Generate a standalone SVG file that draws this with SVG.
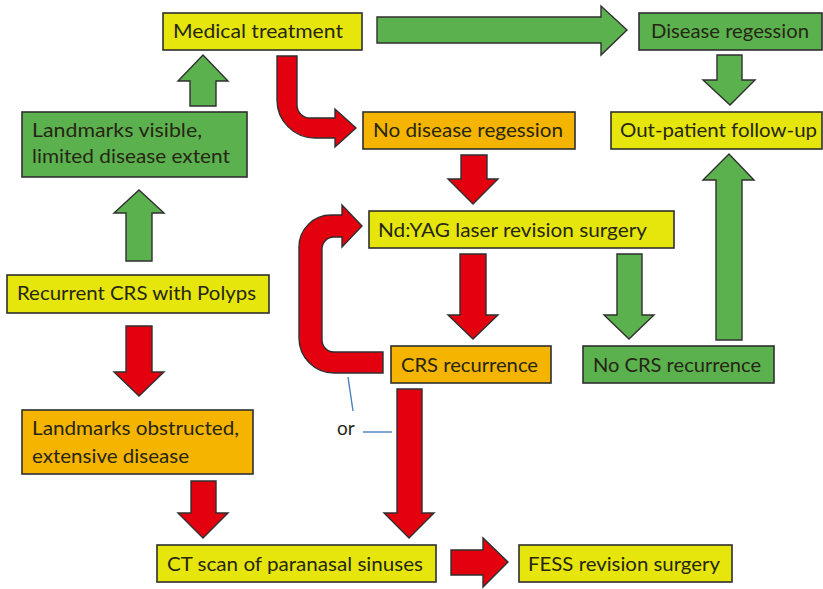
<svg xmlns="http://www.w3.org/2000/svg" width="823" height="589" viewBox="0 0 823 589">
<style>
  .box { stroke: #2f2f2f; stroke-width: 1.6; }
  .y { fill: #e6e60c; }
  .g { fill: #5cb14f; }
  .o { fill: #f5b400; }
  .t { font-family: Lato, "Open Sans", "Liberation Sans", sans-serif; font-size: 19px; fill: #262614; }
  .ag { fill: #5cb14f; stroke: #2f2f2f; stroke-width: 1.4; stroke-linejoin: miter; }
  .ar { fill: #e3000f; stroke: #2f2f2f; stroke-width: 1.4; stroke-linejoin: miter; }
  .ln { stroke: #4a7fc0; stroke-width: 1.4; fill: none; }
</style>
<rect width="823" height="589" fill="#ffffff"/>

<g id="connectors">
  <!-- Medical treatment -> Disease regession -->
  <polygon class="ag" points="377,17 601,17 601,6 627,30 601,55 601,43 377,43"/>
  <!-- Disease regession -> Out-patient follow-up -->
  <polygon class="ag" points="717,55 742,55 742,80 755,80 730,105 703,80 717,80"/>
  <!-- Landmarks visible -> Medical treatment -->
  <polygon class="ag" points="190,106 216,106 216,81 228,81 203,55 178,81 190,81"/>
  <!-- Recurrent CRS -> Landmarks visible -->
  <polygon class="ag" points="126,261 152,261 152,213 164,213 139,190 114,213 126,213"/>
  <!-- Recurrent CRS -> Landmarks obstructed -->
  <polygon class="ar" points="126,326 152,326 152,372 164,372 139,396 114,372 126,372"/>
  <!-- Landmarks obstructed -> CT scan -->
  <polygon class="ar" points="191,481 216,481 216,513 228,513 203,538 178,513 191,513"/>
  <!-- CT scan -> FESS -->
  <polygon class="ar" points="451,550 483,550 483,538 508,562 483,587 483,575 451,575"/>
  <!-- CRS recurrence -> CT scan -->
  <polygon class="ar" points="397,389 422,389 422,513 434,513 409,538 384,513 397,513"/>
  <!-- Medical treatment -> No disease regession (curved) -->
  <path class="ar" d="M277,56 H297 V105 A13,13 0 0 0 310,118 H335 V109 L356,128 L335,147 V138 H315 A38,38 0 0 1 277,100 Z"/>
  <!-- No disease regession -> Nd:YAG -->
  <polygon class="ar" points="461,155 487,155 487,179 498,179 473,204 448,179 461,179"/>
  <!-- Nd:YAG -> CRS recurrence -->
  <polygon class="ar" points="460,254 486,254 486,315 498,315 473,339 448,315 460,315"/>
  <!-- Nd:YAG -> No CRS recurrence -->
  <polygon class="ag" points="617,254 642,254 642,315 654,315 629,339 604,315 617,315"/>
  <!-- No CRS recurrence -> Out-patient follow-up -->
  <polygon class="ag" points="716,340 742,340 742,180 754,180 729,154 703,180 716,180"/>
  <!-- CRS recurrence -> Nd:YAG (loop) -->
  <path class="ar" d="M383,352 H334 A12,12 0 0 1 322,340 V249 A12,12 0 0 1 334,237 H342 V247 L362,226 L342,205 V215 H331 A32,32 0 0 0 299,247 V338 A35,35 0 0 0 334,373 H383 Z"/>
  <!-- "or" indicator lines -->
  <line class="ln" x1="348" y1="377" x2="353" y2="411"/>
  <line class="ln" x1="363" y1="432" x2="392" y2="432"/>
  <text class="t" x="337" y="435">or</text>
</g>

<g id="medical-treatment">
  <rect class="box y" x="163" y="13" width="199" height="37"/>
  <text class="t" x="173" y="38" textLength="170" lengthAdjust="spacingAndGlyphs">Medical treatment</text>
</g>
<g id="disease-regession">
  <rect class="box g" x="639" y="13" width="183" height="37"/>
  <text class="t" x="651" y="38" textLength="158" lengthAdjust="spacingAndGlyphs">Disease regession</text>
</g>
<g id="no-disease-regession">
  <rect class="box o" x="363" y="112" width="212" height="37"/>
  <text class="t" x="373" y="137" textLength="190" lengthAdjust="spacingAndGlyphs">No disease regession</text>
</g>
<g id="out-patient-follow-up">
  <rect class="box y" x="611" y="112" width="211" height="37"/>
  <text class="t" x="620" y="137" textLength="197" lengthAdjust="spacingAndGlyphs">Out-patient follow-up</text>
</g>
<g id="landmarks-visible">
  <rect class="box g" x="22" y="112" width="225" height="65"/>
  <text class="t" x="32" y="137" textLength="170" lengthAdjust="spacingAndGlyphs">Landmarks visible,</text>
  <text class="t" x="32" y="163" textLength="198" lengthAdjust="spacingAndGlyphs">limited disease extent</text>
</g>
<g id="recurrent-crs">
  <rect class="box y" x="7" y="275" width="262" height="38"/>
  <text class="t" x="17" y="300" textLength="239" lengthAdjust="spacingAndGlyphs">Recurrent CRS with Polyps</text>
</g>
<g id="ndyag">
  <rect class="box y" x="369" y="211" width="305" height="37"/>
  <text class="t" x="378" y="237" textLength="269" lengthAdjust="spacingAndGlyphs">Nd:YAG laser revision surgery</text>
</g>
<g id="crs-recurrence">
  <rect class="box o" x="391" y="346" width="160" height="37"/>
  <text class="t" x="401" y="372" textLength="137" lengthAdjust="spacingAndGlyphs">CRS recurrence</text>
</g>
<g id="no-crs-recurrence">
  <rect class="box g" x="583" y="346" width="191" height="37"/>
  <text class="t" x="593" y="372" textLength="168" lengthAdjust="spacingAndGlyphs">No CRS recurrence</text>
</g>
<g id="landmarks-obstructed">
  <rect class="box o" x="22" y="410" width="231" height="64"/>
  <text class="t" x="32" y="435" textLength="207" lengthAdjust="spacingAndGlyphs">Landmarks obstructed,</text>
  <text class="t" x="32" y="463" textLength="157" lengthAdjust="spacingAndGlyphs">extensive disease</text>
</g>
<g id="ct-scan">
  <rect class="box y" x="157" y="545" width="279" height="37"/>
  <text class="t" x="167" y="571" textLength="256" lengthAdjust="spacingAndGlyphs">CT scan of paranasal sinuses</text>
</g>
<g id="fess">
  <rect class="box y" x="519" y="545" width="213" height="37"/>
  <text class="t" x="528" y="571" textLength="192" lengthAdjust="spacingAndGlyphs">FESS revision surgery</text>
</g>
</svg>
